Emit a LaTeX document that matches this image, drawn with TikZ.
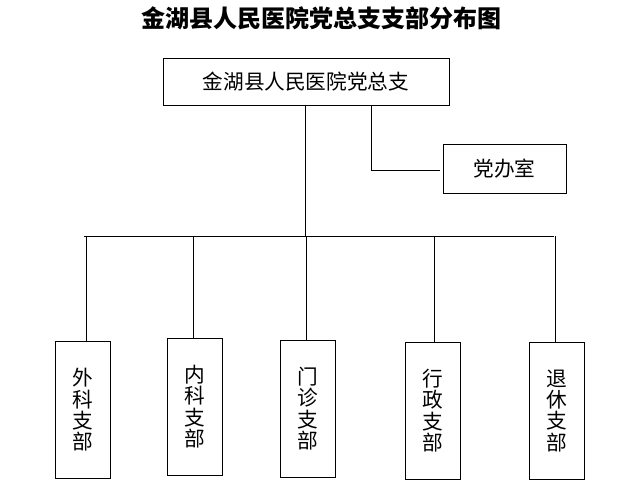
\documentclass[tikz,border=0pt]{standalone}
\usepackage{fontspec}
\newfontfamily\cjk{Noto Sans CJK SC}
\usepackage{tikz}

\begin{document}
\begin{tikzpicture}[x=0.75pt, y=-0.75pt, line width=0.75pt,
  every node/.style={font=\cjk\fontsize{15.5}{16}\selectfont},
  unitbox/.style={draw, rectangle, inner sep=0pt},
  branchbox/.style={unitbox, minimum width=55*0.75pt,
    minimum height=137*0.75pt, align=center}]
  \useasboundingbox (0,0) rectangle (644,504);
  \node[font=\cjk\bfseries\fontsize{18}{20}\selectfont] (title) at (322,18)
    {金湖县人民医院党总支支部分布图};
  \node[unitbox, minimum width=286*0.75pt, minimum height=47*0.75pt]
    (top) at (306,81.5) {金湖县人民医院党总支};
  \node[unitbox, minimum width=123*0.75pt, minimum height=49*0.75pt]
    (office) at (504.5,168.5) {党办室};
  % branch boxes
  \node[branchbox] (b1) at (83,409.8)  {外\\科\\支\\部};
  \node[branchbox] (b2) at (194.8,406.7) {内\\科\\支\\部};
  \node[branchbox] (b3) at (308,408.7) {门\\诊\\支\\部};
  \node[branchbox] (b4) at (433,410.7) {行\\政\\支\\部};
  \node[branchbox] (b5) at (556.8,410.7) {退\\休\\支\\部};
  % bus and drops
  \coordinate (busL) at (84,236);
  \coordinate (busR) at (554,236);
  \coordinate (main) at (305.7,105);
  \coordinate (side) at (371,105);
  \coordinate (sideEnd) at (440,170);
  \draw (main) -- (main |- busL);
  \draw (side) |- (sideEnd);
  \draw (busL) -- (busR);
  \foreach \i/\x in {1/86.3, 2/193.3, 3/306.7, 4/434.3, 5/555.3} {
    \coordinate (t\i) at (\x,236);
    \draw (t\i) -- (t\i |- b\i.north);
  }
\end{tikzpicture}
\end{document}
